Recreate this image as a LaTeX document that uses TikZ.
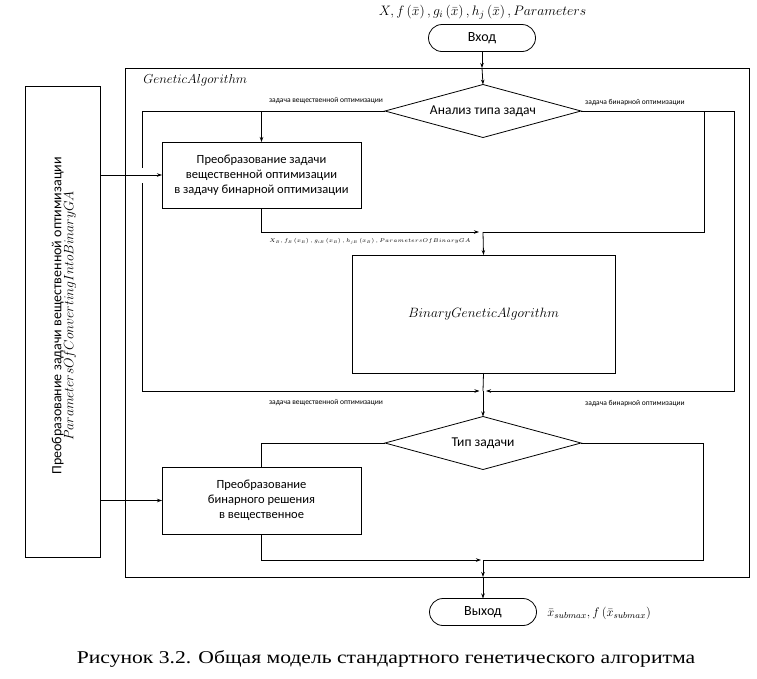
\RequirePackage{fix-cm}
\documentclass[tikz,border=0pt]{standalone}
\usepackage{fontspec}
\setmainfont{Liberation Serif}
\newfontfamily\boxfont{Carlito}
\newfontfamily\capfont[FakeStretch=1.2]{Liberation Serif}
\usetikzlibrary{shapes.geometric,arrows.meta}
\newcommand{\fsz}[1]{\fontsize{#1}{#1}\selectfont}
\tikzset{
  box/.style={draw, rectangle, inner sep=0pt, outer sep=0pt, align=center,
    font=\boxfont\fontsize{12.5}{15}\selectfont},
  dia/.style={draw, diamond, aspect=3.7, inner sep=0pt, outer sep=0pt, minimum width=196pt,
    minimum height=53pt, font=\boxfont\fsz{13.5}},
  term/.style={draw, rectangle, rounded corners=13.5pt, inner sep=0pt, outer sep=0pt,
    minimum width=107pt, minimum height=27pt, font=\boxfont\fsz{14}},
  lbl/.style={inner sep=0pt, font=\boxfont\fsz{7.5}},
  arr/.style={-{Stealth[length=5pt,width=3.5pt]}}
}
\begin{document}
\begin{tikzpicture}[x=1pt,y=-1pt,line width=0.8pt]
\useasboundingbox (0,0) rectangle (757,678);
% top
\node[inner sep=0pt, font=\fsz{13.7}] (toplbl) at (482.5,12)
  {$X, f\,(\bar{x})\,, g_i\,(\bar{x})\,, h_j\,(\bar{x})\,, Parameters$};
\node[term] (in) at (482,38) {Вход};
\node[draw, rectangle, inner sep=0pt, outer sep=0pt, minimum width=624pt, minimum height=509pt] (frame) at (437,322.5) {};
\node[anchor=west, inner sep=0pt, font=\fsz{13}] (ga) at (143,80) {$GeneticAlgorithm$};
% nodes
\node[dia] (d1) at (483,111) {Анализ типа задач};
\node[box, minimum width=199pt, minimum height=66pt] (b1) at (261.5,175)
  {Преобразование задачи\\вещественной оптимизации\\в задачу бинарной оптимизации};
\node[box, minimum width=263pt, minimum height=118pt, font=\fsz{13.5}] (bga) at (483.5,314)
  {$BinaryGeneticAlgorithm$};
\node[dia] (d2) at (483,443) {Тип задачи};
\node[box, minimum width=199pt, minimum height=67pt] (b2) at (261.5,500.5)
  {Преобразование\\бинарного решения\\в вещественное};
\node[term] (out) at (483,612) {Выход};
\node[draw, rectangle, inner sep=0pt, outer sep=0pt, minimum width=75pt, minimum height=471pt] (lb) at (62.5,321.5) {};
\node[rotate=90, align=center, inner sep=0pt] (lbt) at (64,316)
  {{\boxfont\fontsize{14}{21}\selectfont Преобразование задачи вещественной оптимизации}\\
   {\fontsize{13.6}{21}\selectfont $ParametersOfConvertingIntoBinaryGA$}};
% junctions
\coordinate (j1) at (483,232);
\coordinate (j2) at (483,391);
\coordinate (j3) at (483,560);
\coordinate (ftop) at (in.south |- frame.north);
\coordinate (fbot) at (j3 |- frame.south);
% connectors
\draw[arr] (in.south) -- (ftop);
\draw[arr] (ftop) -- (d1.north);
\draw (d1.west) -| (142,168);
\draw[arr, shorten >=3.5pt] (142,183) |- (j2);
\draw[arr] (b1.north |- d1.west) -- (b1.north);
\draw[arr, shorten >=4pt] (b1.south) |- (j1);
\draw (d1.east) -- (734,111);
\draw (704,111) |- (j1);
\draw[arr, shorten >=3pt] (734,111) |- (j2);
\draw[arr] (j1) -- (bga.north);
\draw (bga.south) -- (j2);
\draw[arr] (j2) -- (d2.north);
\draw (d2.west) -| (b2.north);
\draw[arr, shorten >=2pt] (b2.south) |- (j3);
\draw (d2.east) -| (703,560) -- (j3);
\draw[arr] (j3) -- (fbot);
\draw[arr] (fbot) -- (out.north);
\draw[arr] (lb.east |- b1.west) -- (b1.west);
\draw[arr] (lb.east |- b2.west) -- (b2.west);
% labels
\node[lbl] (l1) at (326,101) {задача вещественной оптимизации};
\node[lbl] (l2) at (635,103) {задача бинарной оптимизации};
\node[lbl] (l3) at (326,403) {задача вещественной оптимизации};
\node[lbl] (l4) at (635,404) {задача бинарной оптимизации};
\node[anchor=west, inner sep=0pt, font=\fsz{5.5}] (xb) at (269,241)
  {$X_B, f_B\,(x_B)\,, g_{iB}\,(x_B)\,, h_{jB}\,(x_B)\,, ParametersOfBinaryGA$};
\node[anchor=west, inner sep=0pt, font=\fsz{12.5}] (outlbl) at (547,613)
  {$\bar{x}_{submax}, f\,(\bar{x}_{submax})$};
\node[inner sep=0pt, font=\capfont\fsz{18}] (cap) at (386,659)
  {Рисунок 3.2. Общая модель стандартного генетического алгоритма};
\end{tikzpicture}
\end{document}
